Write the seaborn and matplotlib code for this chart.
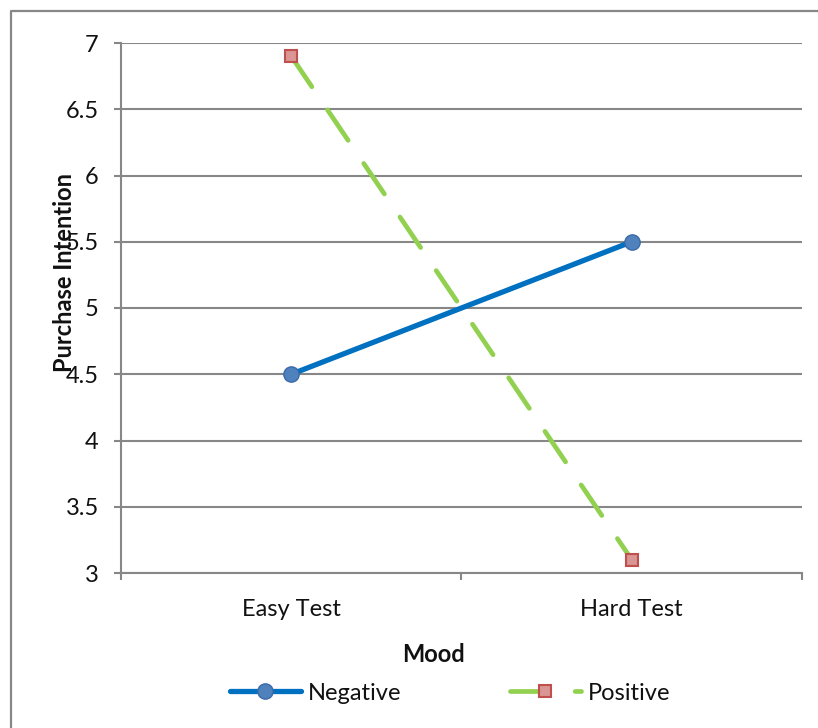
import numpy as np
import pandas as pd
import matplotlib
matplotlib.use("Agg")
import matplotlib.pyplot as plt
import seaborn as sns
from matplotlib.lines import Line2D

# ---- data ----
moods = ["Easy Test", "Hard Test"]
negative = [4.5, 5.5]
positive = [6.9, 3.1]
series_names = ["Negative", "Positive"]
y_ticks = [3, 3.5, 4, 4.5, 5, 5.5, 6, 6.5, 7]

sns.set_theme(style="white")
plt.rcParams["font.family"] = ["Lato", "DejaVu Sans"]

W, H = 818, 728
fig = plt.figure(figsize=(W / 100, H / 100), dpi=100)
fig.patch.set_facecolor("white")
ax = fig.add_axes([121 / W, 1 - 573 / H, (802 - 121) / W, (573 - 43) / H])

xpos = np.arange(len(moods))
df = pd.DataFrame({"x": np.concatenate([xpos, xpos]),
                   "y": negative + positive,
                   "series": [series_names[0]] * len(moods) + [series_names[1]] * len(moods)})

grid_c = "#878787"
ax.set_yticks(y_ticks)
ax.set_ylim(3, 7)
ax.set_xlim(-0.5, len(moods) - 0.5)
ax.yaxis.grid(True, color=grid_c, linewidth=1.5, zorder=0)
ax.set_axisbelow(True)

sns.lineplot(data=df[df.series == "Negative"], x="x", y="y", ax=ax,
             color="#0070C0", linewidth=3.8, marker="o", markersize=11,
             markerfacecolor="#4F81BD", markeredgecolor="#3B6AA8", markeredgewidth=1.0,
             solid_capstyle="round", label="Negative", legend=False, zorder=3)
sns.lineplot(data=df[df.series == "Positive"], x="x", y="y", ax=ax,
             color="#92D050", linewidth=3.4, marker="s", markersize=8,
             markerfacecolor="#D99694", markeredgecolor="#C0504D", markeredgewidth=1.5,
             dashes=False, label="Positive", legend=False, zorder=4)
pos_line = ax.get_lines()[-1]
pos_line.set_linestyle((0, (7.8, 5.9)))
pos_line.set_dash_capstyle("round")

for s in ["top", "right"]:
    ax.spines[s].set_visible(False)
for s in ["left", "bottom"]:
    ax.spines[s].set_color(grid_c)
    ax.spines[s].set_linewidth(1.5)

ax.set_yticklabels([f"{v:g}" for v in y_ticks], fontsize=17, color="#111111")
ax.tick_params(axis="y", length=5, width=1.5, color=grid_c, pad=11, left=True)

ax.set_xticks(xpos)
ax.set_xticklabels(moods, fontsize=17, color="#111111")
ax.set_xticks(np.arange(-0.5, len(moods), 1.0), minor=True)
ax.tick_params(axis="x", which="major", length=0, pad=18.5)
ax.tick_params(axis="x", which="minor", length=5, width=1.5, color=grid_c, bottom=True)
ax.set_xlabel("")
ax.set_ylabel("")

fig.text(65 / W, 1 - 272 / H, "Purchase Intention", rotation=90, ha="center", va="center",
         fontsize=17, fontweight="bold", color="#111111")
fig.text(434 / W, 1 - 655 / H, "Mood", ha="center", va="center",
         fontsize=17, fontweight="bold", color="#111111")

handles = [ax.get_lines()[0], pos_line]
leg = fig.legend(handles, series_names, loc="center", bbox_to_anchor=(450 / W, 1 - 693 / H),
                 ncol=2, frameon=False, fontsize=17, handlelength=3.0, handletextpad=0.3,
                 columnspacing=4.6)
for t in leg.get_texts():
    t.set_color("#111111")

fig.add_artist(Line2D([10.5 / W, 10.5 / W, 1.02], [-0.02, 1 - 10.5 / H, 1 - 10.5 / H],
                      transform=fig.transFigure, color=grid_c, linewidth=1.6))

fig.savefig("out.png", dpi=100)
